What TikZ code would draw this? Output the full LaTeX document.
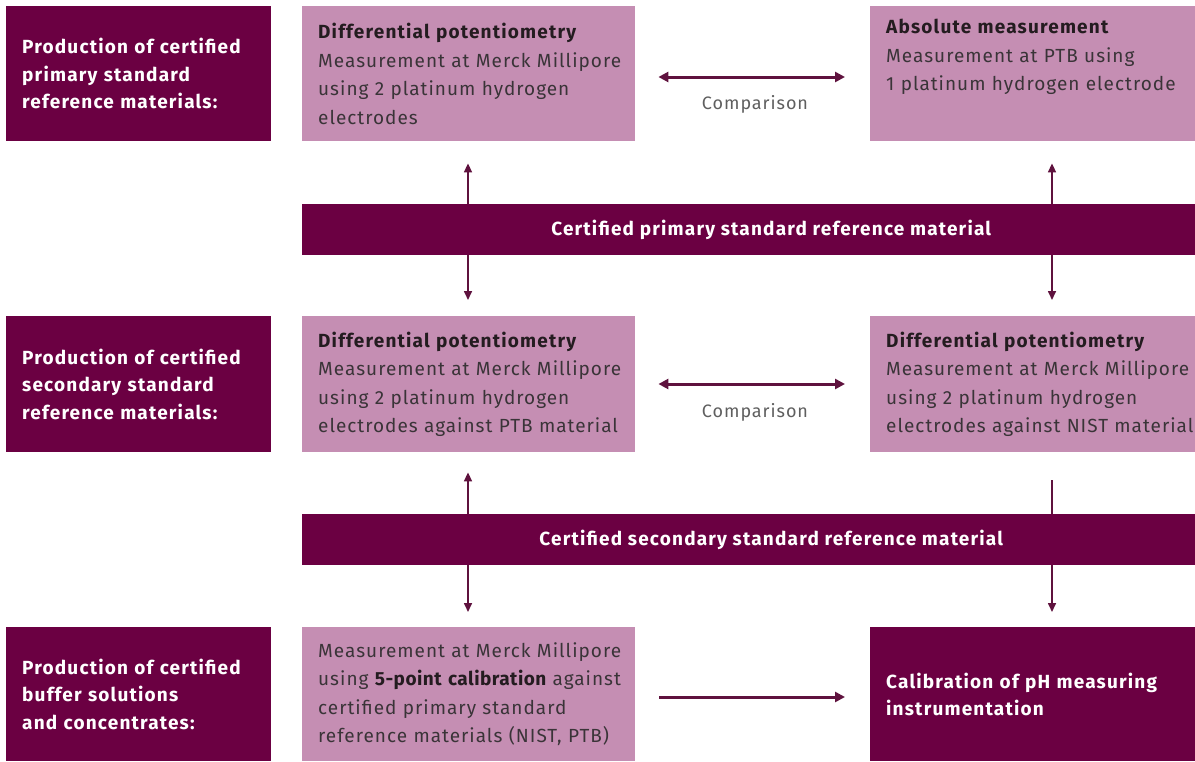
\documentclass[tikz,border=0pt]{standalone}
\usepackage{fontspec}
\setmainfont{Fira Sans}[LetterSpace=5.3, BoldFeatures={LetterSpace=6.2}]
\newfontfamily\inlinebold{Fira Sans}[LetterSpace=2.5]
\usetikzlibrary{arrows.meta}
\definecolor{mdark}{RGB}{107,0,66}
\definecolor{mpink}{RGB}{197,142,179}
\definecolor{mtext}{RGB}{58,52,56}
\definecolor{mtitle}{RGB}{36,28,32}
\definecolor{marrow}{RGB}{95,18,62}
\definecolor{mgray}{RGB}{95,95,95}
\begin{document}
\begin{tikzpicture}[x=1pt,y=-1pt,
  darkbox/.style={fill=mdark, text=white, font=\fontsize{19}{27.5}\selectfont\bfseries,
    align=left, anchor=north west, inner xsep=16pt, inner ysep=0pt},
  pinkbox/.style={fill=mpink, text=mtext, font=\fontsize{19}{28.5}\selectfont,
    align=left, anchor=north west, inner xsep=16pt, inner ysep=0pt},
  barbox/.style={fill=mdark, text=white, font=\fontsize{19}{22}\selectfont\bfseries,
    anchor=north west, inner sep=0pt},
  cmplabel/.style={text=mgray, font=\fontsize{18}{20}\selectfont, inner sep=0pt},
  conn/.style={draw=marrow, line width=1.6pt, -{Triangle[length=9pt,width=8pt]}},
  cmpconn/.style={draw=marrow, line width=3pt, {Triangle[length=10pt,width=10pt]}-{Triangle[length=10pt,width=10pt]}},
  rowconn/.style={draw=marrow, line width=3pt, -{Triangle[length=10pt,width=10pt]}},
  plain/.style={draw=marrow, line width=1.6pt}
]
\useasboundingbox (0,0) rectangle (1195,761);
\fill[white] (0,0) rectangle (1195,761);

% row 1
\node[darkbox, text width=233pt, minimum height=135pt] (L1) at (6,6)
  {Production of certified\\primary standard\\reference materials:};
\node[pinkbox, text width=301pt, minimum height=135pt] (P1) at (302,6)
  {{\color{mtitle}\bfseries Differential potentiometry}\\\mbox{Measurement at Merck Millipore}\\using 2 platinum hydrogen\\electrodes};
\node[pinkbox, text width=330pt, minimum height=135pt] (A1) at (870,6)
  {{\color{mtitle}\bfseries Absolute measurement}\\Measurement at PTB using\\1 platinum hydrogen electrode\\\strut};
\node[barbox, minimum width=938pt, minimum height=51pt] (B1) at (302,204)
  {Certified primary standard reference material};

% row 2
\node[darkbox, text width=233pt, minimum height=136pt] (L2) at (6,316)
  {Production of certified\\secondary standard\\reference materials:};
\node[pinkbox, text width=301pt, minimum height=136pt] (P2) at (302,316)
  {{\color{mtitle}\bfseries Differential potentiometry}\\\mbox{Measurement at Merck Millipore}\\using 2 platinum hydrogen\\\mbox{electrodes against PTB material}};
\node[pinkbox, text width=330pt, minimum height=136pt] (P3) at (870,316)
  {{\color{mtitle}\bfseries Differential potentiometry}\\Measurement at Merck Millipore\\using 2 platinum hydrogen\\electrodes against NIST material};
\node[barbox, minimum width=938pt, minimum height=51pt] (B2) at (302,514)
  {Certified secondary standard reference material};

% row 3
\node[darkbox, text width=233pt, minimum height=134pt] (L3) at (6,627)
  {Production of certified\\buffer solutions\\and concentrates:};
\node[pinkbox, text width=301pt, minimum height=134pt] (P4) at (302,627)
  {\mbox{Measurement at Merck Millipore}\\\mbox{using {\color{mtitle}\inlinebold\bfseries 5-point calibration} against}\\certified primary standard\\\mbox{reference materials (NIST, PTB)}};
\node[darkbox, text width=330pt, minimum height=134pt] (D1) at (870,627)
  {Calibration of pH measuring\\instrumentation};

% comparison labels
\node[cmplabel] (C1) at (755,104) {Comparison};
\node[cmplabel] (C2) at (755,412) {Comparison};

% helper coordinates
\coordinate (xl) at (468,0);
\coordinate (xr) at (1052,0);
\coordinate (y1) at (0,77);
\coordinate (y2) at (0,384);
\coordinate (y3) at (0,697);

% comparison arrows
\draw[cmpconn, shorten <=23pt, shorten >=25pt] (P1.east |- y1) -- (A1.west |- y1);
\draw[cmpconn, shorten <=23pt, shorten >=25pt] (P2.east |- y2) -- (P3.west |- y2);
\draw[rowconn, shorten <=24pt, shorten >=25pt] (P4.east |- y3) -- (D1.west |- y3);

% vertical arrows around bar 1
\draw[conn, shorten >=22pt] (B1.north -| xl) -- (P1.south -| xl);
\draw[conn, shorten >=22pt] (B1.north -| xr) -- (A1.south -| xr);
\draw[conn, shorten >=16pt] (B1.south -| xl) -- (P2.north -| xl);
\draw[conn, shorten >=16pt] (B1.south -| xr) -- (P3.north -| xr);

% vertical arrows around bar 2
\draw[conn, shorten >=20pt] (B2.north -| xl) -- (P2.south -| xl);
\draw[plain, shorten <=28pt] (P3.south -| xr) -- (B2.north -| xr);
\draw[conn, shorten >=15pt] (B2.south -| xl) -- (P4.north -| xl);
\draw[conn, shorten >=15pt] (B2.south -| xr) -- (D1.north -| xr);
\end{tikzpicture}
\end{document}
